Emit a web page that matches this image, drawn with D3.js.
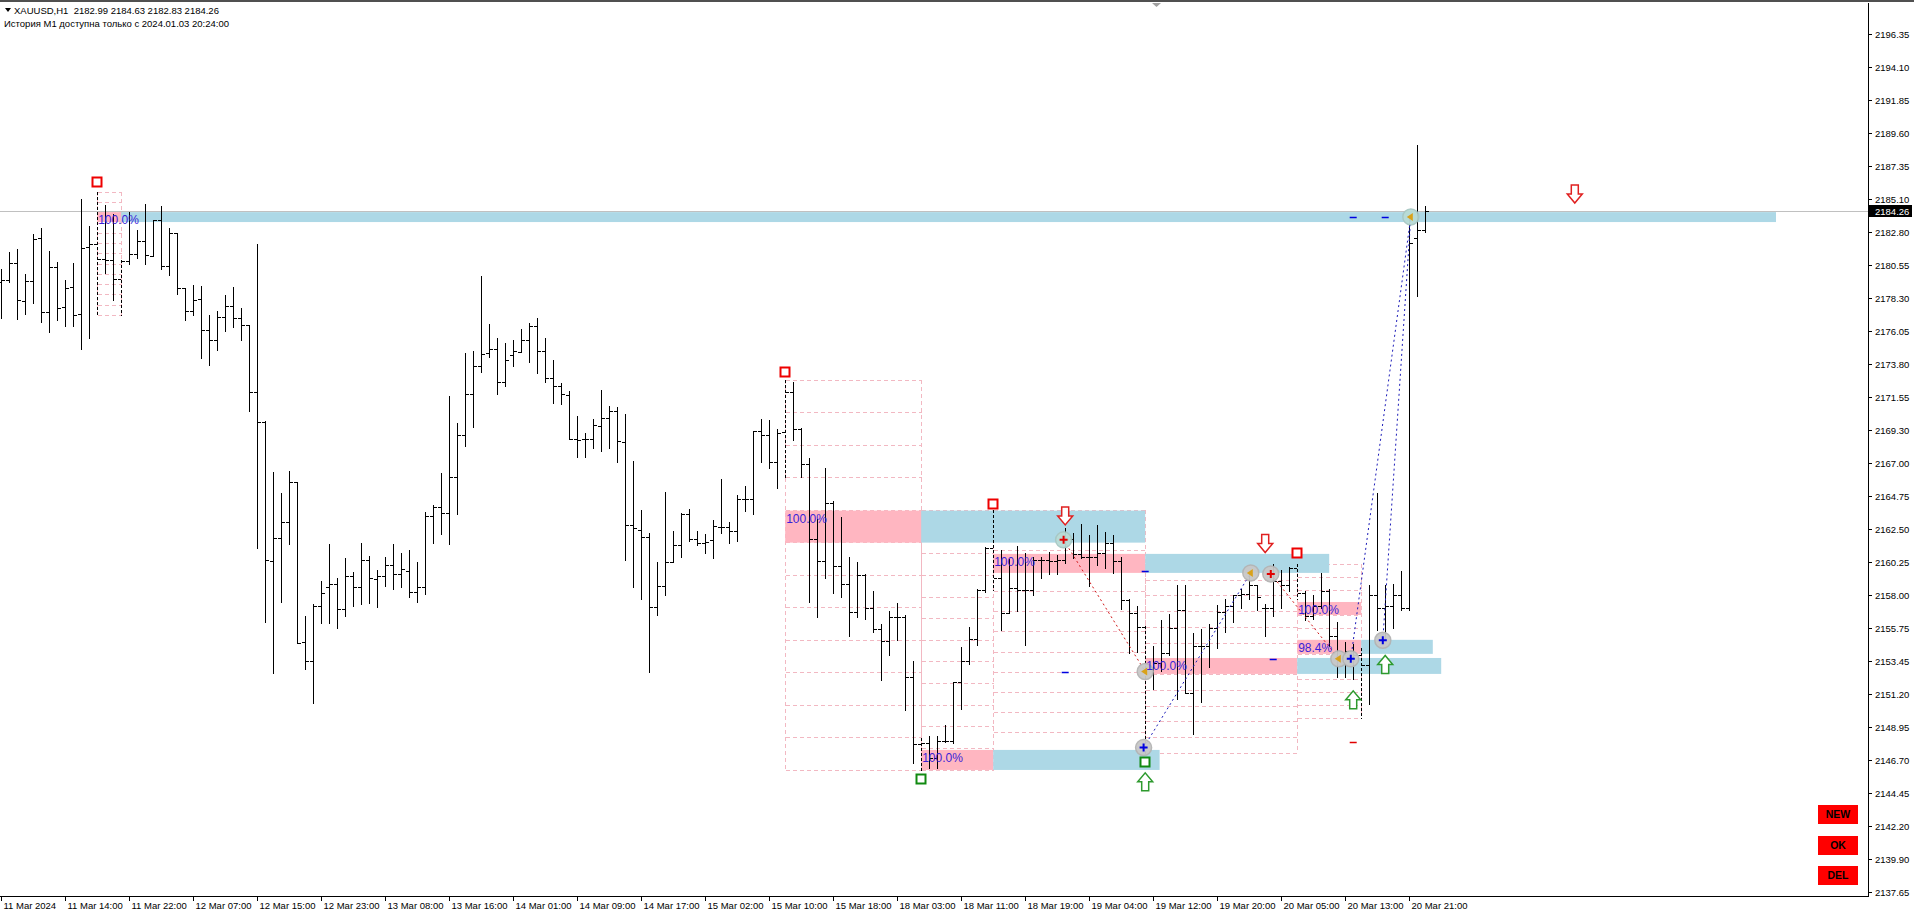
<!DOCTYPE html>
<html><head><meta charset="utf-8">
<script src="https://cdn.jsdelivr.net/npm/d3@7"></script>
<style>
html,body{margin:0;padding:0;background:#fff;overflow:hidden}
svg{display:block}
text{font-family:"Liberation Sans",Arial,sans-serif}
</style></head><body>
<svg id="c" width="1914" height="914"></svg>
<script>
// ---------------- DATA ----------------
const opens=[2179.40,2179.55,2180.70,2178.09,2179.46,2182.42,2177.36,2180.40,2177.67,2179.03,
2177.19,2181.79,2181.98,2181.00,2180.92,2179.60,2180.82,2181.32,2182.19,2181.15,
2183.62,2180.49,2182.78,2178.96,2177.41,2178.23,2176.09,2175.43,2177.01,2177.78,
2176.91,2176.44,2171.85,2169.85,2160.31,2161.86,2162.96,2165.69,2154.75,2153.47,
2157.24,2158.56,2158.74,2157.01,2159.29,2158.56,2160.38,2159.06,2159.29,2160.04,
2159.42,2159.63,2158.22,2158.56,2163.39,2164.03,2163.57,2166.04,2168.93,2171.74,
2173.65,2174.52,2174.81,2172.53,2174.40,2174.59,2175.43,2176.39,2174.68,2172.81,
2172.28,2171.67,2168.64,2168.68,2168.64,2169.52,2170.07,2170.57,2168.45,2162.75,
2162.41,2161.93,2157.19,2158.60,2160.22,2161.39,2163.53,2161.84,2161.52,2161.75,
2162.66,2162.62,2162.34,2164.55,2164.55,2169.21,2168.91,2167.11,2169.15,2171.90,
2169.33,2166.96,2161.80,2160.30,2164.27,2160.00,2158.75,2156.81,2159.36,2157.08,
2155.67,2154.85,2156.51,2156.51,2152.41,2147.81,2147.85,2146.82,2148.03,2148.03,
2152.07,2153.44,2154.96,2158.34,2161.17,2159.14,2156.74,2158.50,2158.34,2158.34,
2160.39,2160.39,2160.28,2160.39,2161.80,2160.78,2160.62,2160.62,2160.85,2161.53,
2160.34,2157.65,2156.74,2155.83,2152.93,2153.35,2154.05,2155.72,2156.98,2151.26,
2154.47,2154.47,2155.72,2156.84,2157.26,2157.96,2158.04,2158.65,2157.12,2157.12,
2158.93,2158.65,2159.86,2158.10,2156.56,2157.26,2158.24,2155.16,2153.69,2154.19,
2153.85,2153.21,2157.96,2157.12,2157.26,2157.96,2157.12,2182.38,2182.99];
const highs=[2180.30,2181.43,2181.67,2179.97,2182.68,2183.08,2181.50,2180.77,2179.55,2180.70,
2185.06,2183.22,2185.56,2184.68,2184.02,2180.92,2184.21,2182.97,2184.73,2183.67,
2184.57,2183.08,2182.78,2178.96,2179.20,2179.13,2177.15,2177.43,2178.49,2179.03,
2177.62,2176.49,2182.00,2169.89,2166.42,2164.99,2166.49,2165.69,2156.55,2157.35,
2158.97,2161.45,2159.17,2160.54,2159.58,2161.57,2160.68,2159.70,2160.61,2161.50,
2160.84,2161.07,2160.27,2163.69,2164.14,2166.36,2171.62,2169.78,2174.56,2174.70,
2179.83,2176.52,2175.59,2175.25,2175.43,2176.18,2176.62,2176.96,2175.60,2174.06,
2172.51,2171.94,2170.23,2169.05,2170.03,2172.01,2170.92,2170.82,2170.37,2167.15,
2163.80,2162.25,2160.27,2165.03,2162.39,2163.57,2163.87,2162.37,2162.16,2163.12,
2165.95,2162.98,2164.83,2165.44,2169.23,2170.00,2169.96,2169.32,2172.70,2172.59,
2169.40,2167.34,2163.17,2166.66,2164.40,2163.35,2160.57,2160.25,2159.40,2158.29,
2155.99,2156.92,2157.43,2156.60,2153.44,2148.19,2148.31,2148.35,2149.10,2152.07,
2154.46,2155.83,2158.38,2161.26,2163.81,2161.07,2160.44,2161.35,2160.89,2160.62,
2160.62,2160.96,2160.73,2162.56,2162.21,2162.85,2162.10,2162.78,2162.33,2162.10,
2160.62,2157.70,2157.24,2155.86,2154.47,2156.28,2156.70,2158.65,2158.65,2155.36,
2155.64,2155.97,2157.31,2157.68,2157.96,2158.38,2159.49,2158.70,2157.40,2160.11,
2159.72,2159.91,2160.11,2158.24,2157.96,2159.49,2158.38,2156.14,2154.75,2154.61,
2154.33,2158.65,2164.94,2158.65,2158.71,2159.63,2183.78,2188.75,2184.63];
const lows=[2176.91,2179.43,2176.84,2177.24,2177.95,2176.65,2175.97,2176.82,2176.37,2176.42,
2174.79,2175.59,2177.19,2180.02,2178.18,2177.15,2180.61,2181.01,2180.66,2181.15,
2180.26,2179.90,2178.61,2176.77,2177.15,2174.18,2173.71,2174.72,2176.02,2176.30,
2175.41,2170.55,2161.23,2156.12,2152.63,2157.53,2161.45,2154.68,2152.90,2150.58,
2156.10,2156.10,2155.71,2156.57,2157.26,2157.35,2157.42,2157.19,2158.63,2158.38,
2158.51,2157.87,2157.49,2158.03,2161.52,2162.14,2161.45,2163.51,2168.20,2169.50,
2173.22,2174.24,2171.71,2172.31,2173.67,2174.59,2173.95,2173.15,2172.53,2171.10,
2171.03,2168.64,2167.40,2167.45,2168.07,2167.86,2168.07,2167.11,2160.38,2158.56,
2157.69,2152.74,2156.62,2157.99,2160.22,2160.61,2161.68,2161.43,2160.84,2160.54,
2162.25,2161.57,2161.70,2163.76,2163.51,2167.11,2166.65,2165.28,2166.09,2168.60,
2166.09,2157.54,2156.47,2159.14,2158.11,2157.88,2155.15,2156.51,2156.33,2155.49,
2152.14,2153.89,2154.92,2150.13,2146.48,2146.03,2146.14,2146.14,2147.96,2147.85,
2150.18,2153.30,2154.58,2158.16,2158.34,2155.60,2156.74,2156.92,2154.58,2158.00,
2159.14,2159.43,2159.43,2160.21,2160.50,2160.50,2158.57,2160.05,2159.82,2159.48,
2157.02,2154.01,2154.12,2147.20,2151.54,2152.79,2153.91,2150.84,2151.26,2148.46,
2150.70,2153.07,2154.33,2155.44,2156.14,2157.12,2157.68,2156.98,2155.16,2156.56,
2157.12,2158.24,2157.68,2156.28,2156.36,2157.12,2154.47,2152.37,2152.37,2152.23,
2149.58,2150.56,2155.58,2154.89,2155.72,2156.98,2156.98,2178.42,2182.83];
const closes=[2179.55,2180.70,2178.14,2179.46,2182.33,2177.36,2180.45,2177.62,2179.01,2177.15,
2181.72,2181.98,2181.00,2180.92,2179.60,2180.82,2181.32,2182.19,2181.25,2183.67,
2180.49,2182.78,2179.01,2177.41,2178.18,2176.09,2175.43,2177.01,2177.78,2176.91,
2176.44,2171.85,2169.85,2160.36,2161.86,2162.96,2165.69,2154.68,2153.47,2157.24,
2158.15,2158.74,2157.01,2159.29,2158.56,2160.38,2159.13,2159.29,2160.04,2159.42,
2159.74,2158.22,2158.56,2163.39,2164.03,2163.57,2166.04,2168.93,2171.74,2173.65,
2174.47,2174.81,2172.53,2174.06,2174.68,2175.43,2176.39,2174.68,2172.81,2172.28,
2171.74,2168.64,2168.59,2168.68,2169.59,2170.07,2170.57,2168.52,2162.75,2162.55,
2161.93,2157.19,2158.60,2160.22,2161.39,2163.53,2161.84,2161.52,2161.59,2162.71,
2162.66,2162.34,2164.55,2164.55,2169.21,2168.91,2167.11,2169.05,2171.90,2169.33,
2166.96,2161.80,2160.30,2164.27,2160.00,2158.75,2156.81,2159.36,2157.08,2155.67,
2154.85,2156.51,2156.51,2152.41,2147.81,2147.85,2146.82,2148.03,2148.03,2152.07,
2153.44,2154.96,2158.34,2161.17,2159.14,2156.74,2158.50,2158.34,2158.34,2160.39,
2160.39,2160.28,2160.39,2161.80,2160.78,2160.62,2160.62,2160.85,2161.53,2160.34,
2157.65,2156.74,2155.83,2152.93,2153.35,2154.05,2155.72,2156.98,2151.26,2154.47,
2154.47,2155.72,2156.84,2157.26,2157.96,2158.04,2158.65,2157.82,2157.12,2158.93,
2158.65,2159.86,2158.10,2156.56,2157.26,2158.24,2155.16,2153.69,2154.19,2153.85,
2153.21,2157.96,2157.12,2157.26,2157.96,2157.12,2182.10,2182.94,2184.26];

const priceTicks=[2196.35,2194.10,2191.85,2189.60,2187.35,2185.10,2182.80,2180.55,2178.30,2176.05,
2173.80,2171.55,2169.30,2167.00,2164.75,2162.50,2160.25,2158.00,2155.75,2153.45,2151.20,
2148.95,2146.70,2144.45,2142.20,2139.90,2137.65];
const timeLabels=["11 Mar 2024","11 Mar 14:00","11 Mar 22:00","12 Mar 07:00","12 Mar 15:00",
"12 Mar 23:00","13 Mar 08:00","13 Mar 16:00","14 Mar 01:00","14 Mar 09:00","14 Mar 17:00",
"15 Mar 02:00","15 Mar 10:00","15 Mar 18:00","18 Mar 03:00","18 Mar 11:00","18 Mar 19:00",
"19 Mar 04:00","19 Mar 12:00","19 Mar 20:00","20 Mar 05:00","20 Mar 13:00","20 Mar 21:00"];
const timeLabelBars=[0,8,16,24,32,40,48,56,64,72,80,88,96,104,112,120,128,136,144,152,160,168,176];
const lastPrice=2184.26;

// swing points (bars drawn dashed) and fibo grids between them
const swingBars=[12,15,98,115,124,143,162,170];
const gridStart=[12,98,115,124,143,162];
const gridEnd=[15,115,124,143,162,170];

// zones: pink part start->mid, blue extension mid->end
const zoneStart=[12,98,115,124,143,162,162];
const zoneMid=[15,115,124,143,162,170,170];
const zoneEnd=[221.85,143,144.8,166,180,170,178.95];
const zoneTop=[2184.18,2163.76,2147.39,2160.80,2153.68,2157.51,2154.92];
const zoneBottom=[2183.50,2161.57,2146.02,2159.50,2152.59,2156.62,2153.96];
const zoneLabel=["100.0%","100.0%","100.0%","100.0%","100.0%","100.0%","98.4%"];

// circle markers
const circleBar=[132.8,143,142.8,156.2,158.7,167.2,168.7,172.7,176.2];
const circlePrice=[2161.76,2152.75,2147.55,2159.50,2159.43,2153.62,2153.62,2154.89,2183.85];
const circleKind=["plusR","tri","plusB","tri","plusR","tri","plusB","plusB","tri"];
const circleTone=["teal","gray","gray","gray","gray","gray","gray","gray","teal"];
const linkFrom=[0,2,4,6,7];
const linkTo=[1,3,5,8,8];
const linkColor=["red","blue","red","blue","blue"];

const dashBar=[169,173,143,133,159,169];
const dashPrice=[2183.87,2183.87,2159.65,2152.71,2153.62,2147.91];
const dashColor=["blue","blue","blue","blue","blue","red"];

const downArrowBar=[133,158,196.7];
const downArrowPrice=[2162.78,2160.89,2184.80];
const upArrowBar=[143,169,173];
const upArrowPrice=[2145.82,2151.43,2153.85];

const redSqBar=[12,98,124,162];
const redSqPrice=[2186.24,2173.25,2164.22,2160.87];
const greenSqBar=[115,143];
const greenSqPrice=[2145.40,2146.57];

const buttons=["NEW","OK","DEL"];

// ---------------- DRAW ----------------
const svg=d3.select("#c");
const W=1914,H=914, axisX=1868, axisY=896;
const x=d3.scaleLinear().domain([0,178]).range([1.2,1425.2]);
const y=d3.scaleLinear().domain([2137.65,2196.35]).range([892.3,34.2]);
const N=opens.length;

svg.append("rect").attr("width",W).attr("height",H).attr("fill","#fff");
const plot=svg.append("g");
svg.append("clipPath").attr("id","pc").append("rect").attr("x",0).attr("y",3).attr("width",axisX).attr("height",axisY-3);
plot.attr("clip-path","url(#pc)");

// grids
const gridG=plot.append("g").attr("stroke","#f2b8c2").attr("stroke-width",1).attr("stroke-dasharray","4,3").attr("shape-rendering","crispEdges");
gridStart.forEach((s,k)=>{
  const e=gridEnd[k];
  const top=Math.max(highs[s],highs[e]), bot=Math.min(lows[s],lows[e]);
  const levels=d3.range(13).map(j=>top-(top-bot)*j/12);
  const x0=Math.round(x(s))+0.5, x1=Math.round(x(e))+0.5;
  levels.forEach(p=>{
    gridG.append("line").attr("x1",x0).attr("x2",x1).attr("y1",Math.round(y(p))+0.5).attr("y2",Math.round(y(p))+0.5);
  });
  [x0,x1].forEach(xx=>gridG.append("line").attr("x1",xx).attr("x2",xx).attr("y1",y(top)).attr("y2",y(bot)));
});

// zones
zoneStart.forEach((s,k)=>{
  const yt=y(zoneTop[k]), yb=y(zoneBottom[k]);
  plot.append("rect").attr("x",x(s)).attr("y",yt).attr("width",x(zoneMid[k])-x(s)).attr("height",yb-yt).attr("fill","#ffb6c1");
  if(zoneEnd[k]>zoneMid[k]) plot.append("rect").attr("x",x(zoneMid[k])).attr("y",yt).attr("width",x(zoneEnd[k])-x(zoneMid[k])).attr("height",yb-yt).attr("fill","#add8e6");
});

// last price line
plot.append("line").attr("x1",0).attr("x2",axisX).attr("y1",Math.round(y(lastPrice))+0.5).attr("y2",Math.round(y(lastPrice))+0.5)
  .attr("stroke","#c0c0c0").attr("shape-rendering","crispEdges");

// bars
const barG=plot.append("g").attr("stroke","#000").attr("stroke-width",1).attr("shape-rendering","crispEdges");
d3.range(N).forEach(i=>{
  const xc=Math.round(x(i));
  const dashed=swingBars.includes(i);
  barG.append("line").attr("x1",xc+0.5).attr("x2",xc+0.5)
    .attr("y1",Math.round(y(highs[i]))).attr("y2",Math.round(y(lows[i]))+1)
    .attr("stroke-dasharray",dashed?"3,2":null);
  const yo=Math.round(y(opens[i]))+0.5, yc=Math.round(y(closes[i]))+0.5;
  barG.append("line").attr("x1",xc-3).attr("x2",xc).attr("y1",yo).attr("y2",yo);
  barG.append("line").attr("x1",xc+1).attr("x2",xc+4).attr("y1",yc).attr("y2",yc);
});

// dotted links
const colMap={red:"#d01818",blue:"#1a1ab8"};
linkFrom.forEach((a,k)=>{
  const b=linkTo[k];
  plot.append("line").attr("x1",x(circleBar[a])).attr("y1",y(circlePrice[a]))
    .attr("x2",x(circleBar[b])).attr("y2",y(circlePrice[b]))
    .attr("stroke",colMap[linkColor[k]]).attr("stroke-width",1).attr("stroke-dasharray","2,3");
});

// circles
circleBar.forEach((b,k)=>{
  const cx=x(b), cy=y(circlePrice[k]);
  plot.append("circle").attr("cx",cx).attr("cy",cy).attr("r",8)
    .attr("fill",circleTone[k]==="teal"?"#b9dcd6":"#c8c8c8")
    .attr("stroke",circleTone[k]==="teal"?"#a8c8c4":"#b4b4b4").attr("stroke-width",1.5).attr("opacity",0.95);
  const kind=circleKind[k];
  if(kind==="tri"){
    plot.append("path").attr("d",`M${cx-4},${cy} L${cx+2},${cy-4} L${cx+2},${cy+4} Z`).attr("fill","#d9a21b");
  } else {
    const c=kind==="plusR"?"#e00000":"#0000e0";
    plot.append("path").attr("d",`M${cx-4},${cy} H${cx+4} M${cx},${cy-4} V${cy+4}`).attr("stroke",c).attr("stroke-width",2);
  }
});

// small dashes
dashBar.forEach((b,k)=>{
  const cx=x(b), cy=Math.round(y(dashPrice[k]))+0.5;
  plot.append("line").attr("x1",cx-3.5).attr("x2",cx+3.5).attr("y1",cy).attr("y2",cy)
    .attr("stroke",dashColor[k]==="red"?"#e00000":"#0000e0").attr("stroke-width",1.5);
});

// arrows
downArrowBar.forEach((b,k)=>{
  const cx=x(b), ty=y(downArrowPrice[k]);
  plot.append("path").attr("d",`M${cx-3.5},${ty-18} L${cx+3.5},${ty-18} L${cx+3.5},${ty-9} L${cx+7.5},${ty-9} L${cx},${ty} L${cx-7.5},${ty-9} L${cx-3.5},${ty-9} Z`)
    .attr("fill","#fff").attr("stroke","#e02020").attr("stroke-width",1.5);
});
upArrowBar.forEach((b,k)=>{
  const cx=x(b), ty=y(upArrowPrice[k]);
  plot.append("path").attr("d",`M${cx-3.5},${ty+18} L${cx+3.5},${ty+18} L${cx+3.5},${ty+9} L${cx+7.5},${ty+9} L${cx},${ty} L${cx-7.5},${ty+9} L${cx-3.5},${ty+9} Z`)
    .attr("fill","#fff").attr("stroke","#2e9a2e").attr("stroke-width",1.5);
});

// squares
redSqBar.forEach((b,k)=>{
  plot.append("rect").attr("x",Math.round(x(b))-4.5).attr("y",Math.round(y(redSqPrice[k]))-4.5).attr("width",9).attr("height",9)
    .attr("fill","#fff").attr("stroke","#ee0000").attr("stroke-width",2);
});
greenSqBar.forEach((b,k)=>{
  plot.append("rect").attr("x",Math.round(x(b))-4.5).attr("y",Math.round(y(greenSqPrice[k]))-4.5).attr("width",9).attr("height",9)
    .attr("fill","#fff").attr("stroke","#118a11").attr("stroke-width",2);
});

// zone labels
zoneStart.forEach((s,k)=>{
  plot.append("text").attr("x",x(s)+1).attr("y",y(zoneTop[k])+12).attr("font-size",12)
    .attr("fill","#3b1fd8").text(zoneLabel[k]);
});

// ---- axes ----
const ax=svg.append("g").attr("shape-rendering","crispEdges");
ax.append("line").attr("x1",axisX+0.5).attr("x2",axisX+0.5).attr("y1",3).attr("y2",axisY+1).attr("stroke","#000");
ax.append("line").attr("x1",0).attr("x2",axisX+1).attr("y1",axisY+0.5).attr("y2",axisY+0.5).attr("stroke","#000");
priceTicks.forEach(p=>{
  const yy=Math.round(y(p))+0.5;
  ax.append("line").attr("x1",axisX).attr("x2",axisX+4).attr("y1",yy).attr("y2",yy).attr("stroke","#000");
  svg.append("text").attr("x",axisX+7).attr("y",yy).attr("dy","0.35em").attr("font-size",9.5).attr("fill","#000").text(p.toFixed(2));
});
// last price tag
const ly=Math.round(y(lastPrice));
svg.append("rect").attr("x",axisX+1).attr("y",ly-6).attr("width",43).attr("height",12).attr("fill","#000");
svg.append("text").attr("x",axisX+7).attr("y",ly+0.5).attr("dy","0.35em").attr("font-size",9.5).attr("fill","#fff").text(lastPrice.toFixed(2));

timeLabelBars.forEach((b,k)=>{
  const xx=Math.round(x(b))+0.5;
  ax.append("line").attr("x1",xx).attr("x2",xx).attr("y1",axisY).attr("y2",axisY+5).attr("stroke","#000");
  svg.append("text").attr("x",xx+2).attr("y",909).attr("font-size",9.5).attr("fill","#000").text(timeLabels[k]);
});

// frame top + shift marker
svg.append("rect").attr("x",0).attr("y",0).attr("width",W).attr("height",2).attr("fill","#505050");
svg.append("path").attr("d","M1152,3 L1161,3 L1156.5,7 Z").attr("fill","#a0a0a0");

// header
svg.append("path").attr("d","M5,8 L11,8 L8,12 Z").attr("fill","#000");
svg.append("text").attr("x",14).attr("y",13.5).attr("font-size",9.5).attr("fill","#000")
  .attr("xml:space","preserve").text("XAUUSD,H1  "+[opens[N-1],highs[N-1],lows[N-1],closes[N-1]].map(v=>v.toFixed(2)).join(" "));
svg.append("text").attr("x",4).attr("y",26.5).attr("font-size",9.5).attr("fill","#000")
  .text("История M1 доступна только с 2024.01.03 20:24:00");

// buttons
buttons.forEach((t,k)=>{
  const by=[805,836,866][k];
  svg.append("rect").attr("x",1818).attr("y",by).attr("width",40).attr("height",19).attr("fill","#ff0000");
  svg.append("text").attr("x",1838).attr("y",by+9.5).attr("dy","0.36em").attr("text-anchor","middle")
    .attr("font-size",10.5).attr("font-weight","bold").attr("fill","#000").text(t);
});
</script>
</body></html>
